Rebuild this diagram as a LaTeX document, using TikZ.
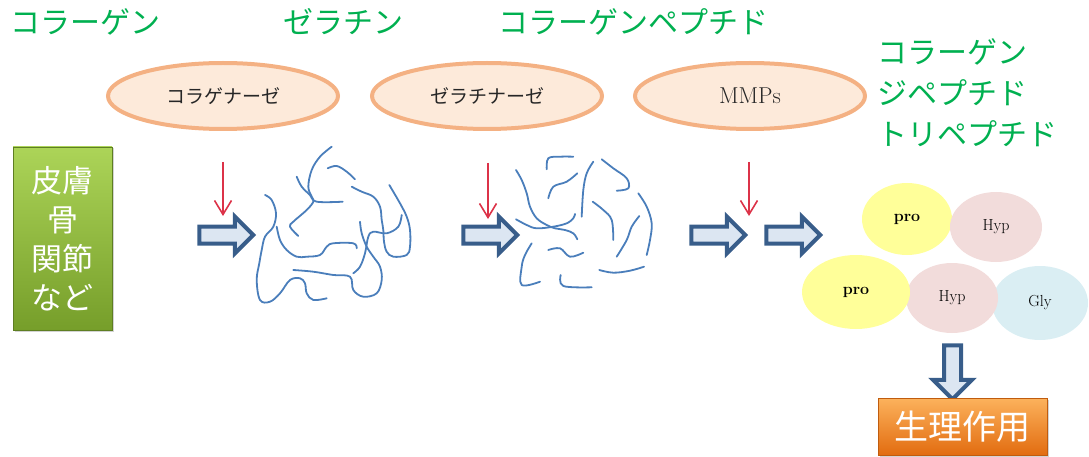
\documentclass[tikz,border=0pt]{standalone}
\usepackage{fontspec}
\newfontfamily\jpfont{Noto Sans CJK JP}
\usetikzlibrary{shapes.geometric,shapes.arrows,arrows.meta,shadows}
\definecolor{titlegreen}{RGB}{0,176,80}
\definecolor{enzline}{RGB}{244,177,131}
\definecolor{enzfill}{RGB}{253,234,218}
\definecolor{cutred}{RGB}{220,50,72}
\definecolor{arrline}{RGB}{56,93,138}
\definecolor{arrfill}{RGB}{220,230,242}
\definecolor{fibreblue}{RGB}{74,126,187}
\definecolor{protone}{RGB}{255,255,153}
\definecolor{hyptone}{RGB}{242,220,219}
\definecolor{glytone}{RGB}{218,238,243}
\definecolor{sidetop}{RGB}{172,212,88}
\definecolor{sidebot}{RGB}{118,158,42}
\definecolor{efftop}{RGB}{252,178,92}
\definecolor{effbot}{RGB}{226,108,16}

\begin{document}
\begin{tikzpicture}[x=1pt,y=-1pt,
title/.style={text=titlegreen, font=\jpfont\fontsize{30}{41}\selectfont, inner sep=0pt},
enzyme/.style={ellipse, draw=enzline, line width=4pt, fill=enzfill, minimum width=230pt,
    minimum height=66pt, inner sep=0pt, font=\jpfont\fontsize{19}{19}\selectfont, text=black!85},
cut/.style={draw=cutred, line width=1.6pt, -{Straight Barb[length=14pt,width=17pt]}},
fwd/.style={single arrow, draw=arrline, fill=arrfill, line width=4pt, single arrow head extend=10pt,
    inner sep=6.5pt, minimum height=54pt, text width=0pt, text height=0pt, text depth=0pt},
fiber/.style={draw=fibreblue, line width=1.8pt, line cap=round, line join=round},
res/.style={ellipse, inner sep=0pt, font=\fontsize{16}{16}\selectfont},
panel/.style={rectangle, inner sep=0pt, text=white, align=center,
    drop shadow={opacity=0.35, shadow xshift=1.5pt, shadow yshift=-1.5pt}}]
\useasboundingbox (0,0) rectangle (1089,457);

% titles
\node[title] (collagen) at (85,22) {コラーゲン};
\node[title] (gelatin) at (343,22) {ゼラチン};
\node[title] (peptide) at (633,22) {コラーゲンペプチド};
\node[title, anchor=west] (dipep0) at (877,52) {コラーゲン};
\node[title, anchor=west] (dipep) at (877,93) {ジペプチド};
\node[title, anchor=west] (tripep) at (877,134) {トリペプチド};

% enzymes
\node[enzyme] (collagenase) at (223,96) {コラゲナーゼ};
\node[enzyme] (gelatinase) at (487,96) {ゼラチナーゼ};
\node[enzyme, font=\fontsize{23}{23}\selectfont] (mmps) at (750,96) {MMPs};

\coordinate (cut1a) at (223,162); \coordinate (cut1b) at (223,216);
\coordinate (cut2a) at (488,163); \coordinate (cut2b) at (488,219);
\coordinate (cut3a) at (749,162); \coordinate (cut3b) at (749,216);
\draw[cut] (cut1a) -- (cut1b);
\draw[cut] (cut2a) -- (cut2b);
\draw[cut] (cut3a) -- (cut3b);

% tissue
\node[panel, top color=sidetop, bottom color=sidebot, draw=sidebot!80!black, line width=0.6pt,
    minimum width=99pt, minimum height=183pt, font=\jpfont\fontsize{31}{39}\selectfont]
    (tissue) at (62.5,238.5) {皮膚\\骨\\関節\\など};

% block arrows
\node[fwd] (step1) at (222,235) {};
\node[fwd] (step2) at (486,235) {};
\node[fwd] (step3) at (714,235) {};
\node[fwd] (step4) at (789,235) {};
\node[fwd, shape border rotate=270, single arrow head extend=11pt] (step5) at (952.5,368) {};

% collagen fibres
\draw[fiber] plot[smooth, tension=0.6] coordinates {(331.7,146.7) (320,156.7) (311.7,170) (308.3,186.7) (311.7,196.7) (313.3,201.7) (306.7,210) (293.3,221.7) (290,226.7) (298.3,236)};
\draw[fiber] plot[smooth, tension=0.6] coordinates {(296.7,176.7) (301.7,186.7) (310,195) (316.7,201.7) (342.7,201.7)};
\draw[fiber] plot[smooth, tension=0.6] coordinates {(327.7,168.3) (336.7,166) (346.7,171.7) (355,179.3)};
\draw[fiber] plot[smooth, tension=0.6] coordinates {(351.7,186.7) (361.7,191.7) (373.3,196.7) (380,206.7) (381.7,220) (383.3,230) (384,241.7) (386.7,251.7) (393.3,256.7) (406.7,255) (410,246.7) (410,230) (406.7,216.7) (400,203.3) (389.3,185)};
\draw[fiber] plot[smooth, tension=0.6] coordinates {(265,195) (271.7,200) (276,213.3) (273.3,226.7) (265,236.7) (261.7,250) (259.3,263.3) (256.7,280) (260,300) (270,301.7) (280,293.3) (290,280) (300,278.3) (305,283.3) (306.7,293.3) (313.3,300) (326.7,298.3)};
\draw[fiber] plot[smooth, tension=0.6] coordinates {(276.7,226.7) (280,240) (286.7,250) (296.7,256.7) (306.7,256.7) (320,255) (326.7,246.7) (333.3,243.3) (353.3,243.3) (356.7,248.3)};
\draw[fiber] plot[smooth, tension=0.6] coordinates {(293.3,270) (313.3,271.7) (333.3,275) (350,276.7) (353.3,290) (363.3,296.7) (376.7,293.3) (381.7,280) (380,266.7) (373.3,256.7) (366.7,246.7) (361.7,233.3) (360,221.7)};
\draw[fiber] plot[smooth, tension=0.6] coordinates {(401.7,215) (398.3,226.7) (386.7,233.3) (373.3,231.7) (368.3,236.7) (365,253.3) (360,266.7) (353.3,273.3)};

% gelatin fibres
\draw[fiber] plot[smooth, tension=0.6] coordinates {(546.7,169.3) (548.3,158.3) (560,156.7) (573.3,156.7)};
\draw[fiber] plot[smooth, tension=0.6] coordinates {(516,170) (521.7,180) (526.7,193.3) (530,206.7) (536.7,218.3) (546.7,225) (555,228.3) (565,230) (573.3,233.3) (577.3,239.3)};
\draw[fiber] plot[smooth, tension=0.6] coordinates {(516,219.3) (526.7,225) (536.7,228.3) (553.3,226.7) (566.7,223.3) (573.3,218.3) (575,214)};
\draw[fiber] plot[smooth, tension=0.6] coordinates {(577.3,173.3) (566.7,181.7) (553.3,186.7) (548.3,198.3)};
\draw[fiber] plot[smooth, tension=0.6] coordinates {(593.3,161.7) (586.7,173.3) (583.3,190) (581.7,216.7)};
\draw[fiber] plot[smooth, tension=0.6] coordinates {(601.7,159.3) (613.3,168.3) (626.7,178.3) (628.3,188.3) (616.7,190.7)};
\draw[fiber] plot[smooth, tension=0.6] coordinates {(592.7,201.7) (603.3,210) (611.7,220) (613.3,240)};
\draw[fiber] plot[smooth, tension=0.6] coordinates {(638.3,193.3) (646.7,206.7) (651.7,223.3) (650,240) (646.7,255)};
\draw[fiber] plot[smooth, tension=0.6] coordinates {(639.3,216) (631.7,226.7) (626.7,240) (616.7,256.7)};
\draw[fiber] plot[smooth, tension=0.6] coordinates {(531.7,243.3) (525,255) (521.7,266.7) (521.7,285) (540,281.7)};
\draw[fiber] plot[smooth, tension=0.6] coordinates {(548.3,250) (560,248.3) (570,256.7) (583.3,252.7)};
\draw[fiber] plot[smooth, tension=0.6] coordinates {(560.7,275) (563.3,286) (591.7,287.3)};
\draw[fiber] plot[smooth, tension=0.6] coordinates {(599.3,270) (613.3,272.7) (630,270.7) (644,266.7)};

% amino acids
\node[res, fill=glytone, minimum width=96pt, minimum height=74pt] (gly) at (1040,303) {Gly};
\node[res, fill=hyptone, minimum width=92pt, minimum height=70pt] (hyp2) at (952,298) {Hyp};
\node[res, fill=protone, minimum width=108pt, minimum height=74pt, font=\bfseries\fontsize{16}{16}\selectfont] (pro2) at (856,292) {pro};
\node[res, fill=protone, minimum width=90pt, minimum height=72pt, font=\bfseries\fontsize{16}{16}\selectfont] (pro1) at (907,219) {pro};
\node[res, fill=hyptone, minimum width=92pt, minimum height=70pt] (hyp1) at (996,227) {Hyp};

% effect
\node[panel, top color=efftop, bottom color=effbot, draw=effbot!85!black, line width=0.6pt,
    minimum width=169pt, minimum height=57pt, font=\jpfont\fontsize{34}{34}\selectfont]
    (effect) at (962.5,426.5) {生理作用};
\end{tikzpicture}
\end{document}
